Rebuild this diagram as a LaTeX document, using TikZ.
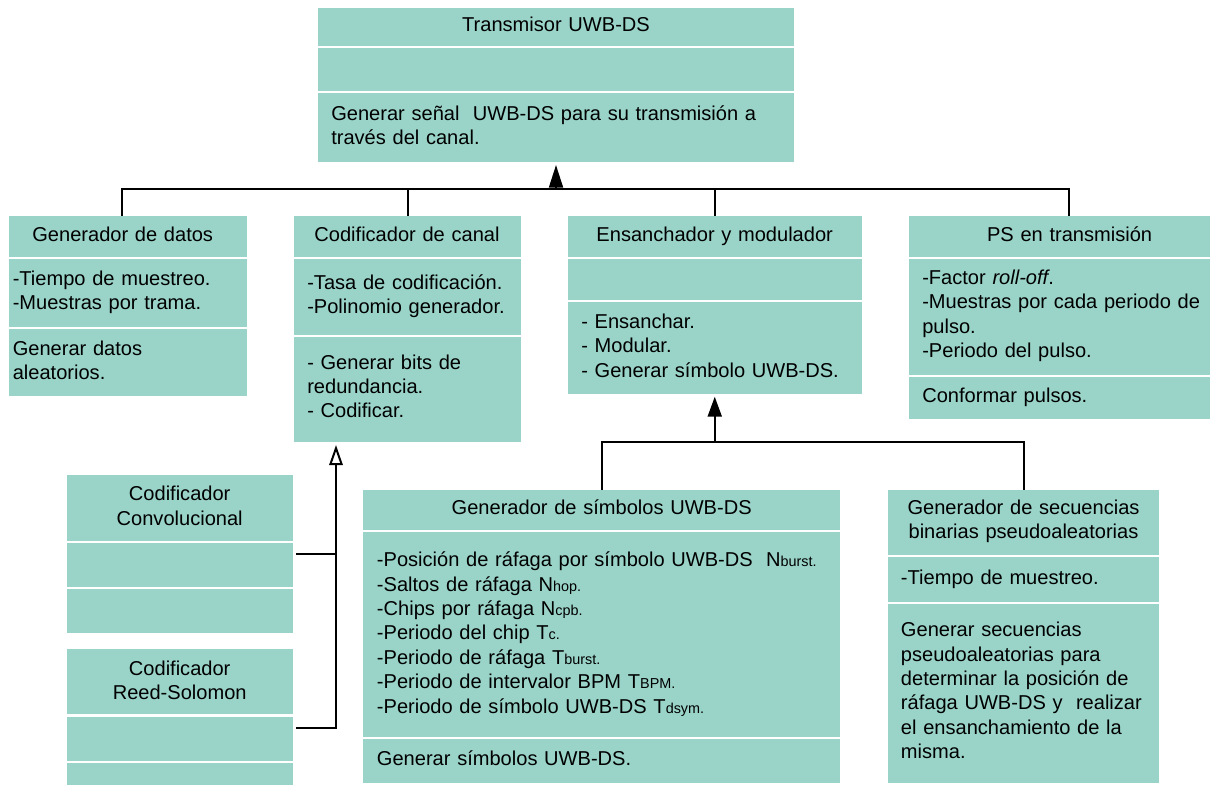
\documentclass[tikz,border=0pt]{standalone}
\usepackage{fontspec}
\setmainfont{Liberation Sans}
\usetikzlibrary{arrows.meta,fit}
\definecolor{boxc}{RGB}{154,212,201}
\newcommand{\fs}{\fontsize{15.05pt}{18.3pt}\selectfont}
\newcommand{\sbt}[1]{{\fontsize{10.8pt}{12pt}\selectfont #1}}
\begin{document}
\begin{tikzpicture}[x=0.75pt,y=-0.75pt,
  comp/.style={fill=boxc, draw=none, inner sep=0pt, outer sep=0pt},
  ttl/.style={inner sep=0pt, anchor=base, align=center, text width=300pt, font=\fs},
  bod/.style={inner sep=0pt, anchor=base west, align=left, text width=450pt, font=\fs},
  conn/.style={line width=1.5pt, draw=black, line join=miter},
]
\useasboundingbox (0,0) rectangle (1212,785);

% Transmisor
\node[comp, fit={(318,8) (794,45.7)}] (top1) {};
\node[comp, fit={(318,47.7) (794,90.7)}] (top2) {};
\node[comp, fit={(318,93.3) (794,162)}] (top3) {};
\node[ttl] (top1t) at (556,31.7) {Transmisor UWB-DS};
\node[bod] (top3t) at (331,120) {Generar señal\ \ UWB-DS para su transmisión a\\través del canal.};

% Generador de datos
\node[comp, fit={(9,216) (247,256.7)}] (gd1) {};
\node[comp, fit={(9,259) (247,326.7)}] (gd2) {};
\node[comp, fit={(9,329) (247,396)}] (gd3) {};
\node[ttl] (gd1t) at (122.7,241.7) {Generador de datos};
\node[bod] (gd2t) at (12.5,285) {-Tiempo de muestreo.\\-Muestras por trama.};
\node[bod] (gd3t) at (12.5,355) {Generar datos\\aleatorios.};

% Codificador de canal
\node[comp, fit={(294,216) (521,256.7)}] (cc1) {};
\node[comp, fit={(294,259) (521,334.7)}] (cc2) {};
\node[comp, fit={(294,336.7) (521,441.7)}] (cc3) {};
\node[ttl] (cc1t) at (407,241.7) {Codificador de canal};
\node[bod] (cc2t) at (307,289.3) {-Tasa de codificación.\\-Polinomio generador.};
\node[bod] (cc3t) at (307,369) {- Generar bits de\\redundancia.\\- Codificar.};

% Ensanchador y modulador
\node[comp, fit={(567.5,216) (862,256.7)}] (em1) {};
\node[comp, fit={(567.5,259) (862,300)}] (em2) {};
\node[comp, fit={(567.5,302) (862,393.7)}] (em3) {};
\node[ttl] (em1t) at (714.7,241.7) {Ensanchador y modulador};
\node[bod] (em3t) at (581,328.3) {- Ensanchar.\\- Modular.\\- Generar símbolo UWB-DS.};

% PS en transmision
\node[comp, fit={(909,216) (1210,256.7)}] (ps1) {};
\node[comp, fit={(909,259) (1210,375)}] (ps2) {};
\node[comp, fit={(909,377) (1210,418.7)}] (ps3) {};
\node[ttl] (ps1t) at (1069.6,241.7) {PS en transmisión};
\node[bod] (ps2t) at (922,284.3) {-Factor \textit{roll-off}.\\-Muestras por cada periodo de\\pulso.\\-Periodo del pulso.};
\node[bod] (ps3t) at (922,402.3) {Conformar pulsos.};

% Codificador Convolucional
\node[comp, fit={(66.7,475) (292.7,540.7)}] (cv1) {};
\node[comp, fit={(66.7,543) (292.7,586.7)}] (cv2) {};
\node[comp, fit={(66.7,589) (292.7,632.7)}] (cv3) {};
\node[ttl] (cv1t) at (179.7,500.7) {Codificador\\Convolucional};

% Codificador Reed-Solomon
\node[comp, fit={(66.7,649.3) (292.7,714.3)}] (rs1) {};
\node[comp, fit={(66.7,716.7) (292.7,760.7)}] (rs2) {};
\node[comp, fit={(66.7,762.7) (292.7,785)}] (rs3) {};
\node[ttl] (rs1t) at (179.7,675) {Codificador\\Reed-Solomon};

% Generador de simbolos
\node[comp, fit={(363.3,490) (840,530)}] (gs1) {};
\node[comp, fit={(363.3,532.3) (840,736.7)}] (gs2) {};
\node[comp, fit={(363.3,739) (840,783.3)}] (gs3) {};
\node[ttl] (gs1t) at (601.7,514.3) {Generador de símbolos UWB-DS};
\node[bod] (gs2t) at (376.7,566.7) {-Posición de ráfaga por símbolo UWB-DS\ \ N\sbt{burst.}\\
-Saltos de ráfaga N\sbt{hop.}\\
-Chips por ráfaga N\sbt{cpb.}\\
-Periodo del chip T\sbt{c.}\\
-Periodo de ráfaga T\sbt{burst.}\\
-Periodo de intervalor BPM T\sbt{BPM.}\\
-Periodo de símbolo UWB-DS T\sbt{dsym.}};
\node[bod] (gs3t) at (376.7,765.7) {Generar símbolos UWB-DS.};

% Generador de secuencias
\node[comp, fit={(888,490) (1159,555)}] (sq1) {};
\node[comp, fit={(888,557.3) (1159,601.7)}] (sq2) {};
\node[comp, fit={(888,604) (1159,783.3)}] (sq3) {};
\node[ttl] (sq1t) at (1023.5,514.3) {Generador de secuencias\\binarias pseudoaleatorias};
\node[bod] (sq2t) at (900.7,584.3) {-Tiempo de muestreo.};
\node[bod] (sq3t) at (900.7,636.7) {Generar secuencias\\pseudoaleatorias para\\determinar la posición de\\ráfaga UWB-DS y\ \ realizar\\el ensanchamiento de la\\misma.};

% Connectors: top level bus
\coordinate (bus) at (0,189);
\coordinate (gdx) at (122,0);
\coordinate (psx) at (1069,0);
\draw[conn] (gdx |- gd1.north) -- (gdx |- bus) -- (psx |- bus) -- (psx |- ps1.north);
\draw[conn] (cc1.north) -- (cc1.north |- bus);
\draw[conn] (em1.north) -- (em1.north |- bus);
\draw[conn, -{Triangle[length=17pt,width=10.5pt]}, shorten >=2.25pt] (top3.south |- bus) -- (top3.south);

% Second bus
\coordinate (bus2) at (0,441.7);
\draw[conn] (gs1.north) -- (gs1.north |- bus2) -- (sq1.north |- bus2) -- (sq1.north);
\draw[conn, -{Triangle[length=15pt,width=10.5pt]}, shorten >=2.25pt] (em3.south |- bus2) -- (em3.south);

% Encoder branch
\coordinate (cvout) at (296,554.3);
\coordinate (rsout) at (296,728);
\coordinate (ccin) at (336,445);
\draw[conn, -{Triangle[open,length=15pt,width=10pt]}] (rsout) -| (ccin);
\draw[conn] (cvout) -- (cvout -| ccin);
\end{tikzpicture}
\end{document}
